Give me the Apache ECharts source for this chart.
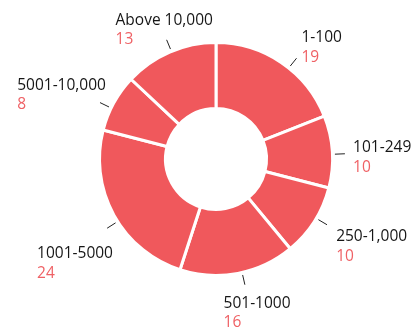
<!DOCTYPE html>
<html>
<head>
<meta charset="utf-8">
<script src="https://cdn.jsdelivr.net/npm/echarts@6/dist/echarts.min.js"></script>
<style>
  html, body { margin: 0; padding: 0; background: #ffffff; }
  #chart { width: 412px; height: 328px; }
</style>
</head>
<body>
<div id="chart"></div>
<script>
// Size bands and how many fall into each
const categories = ['1-100', '101-249', '250-1,000', '501-1000', '1001-5000', '5001-10,000', 'Above 10,000'];
const counts = [19, 10, 10, 16, 24, 8, 13];

const SLICE_COLOR = '#F0585C';
const VALUE_COLOR = '#EF6165';
const NAME_COLOR = '#161616';
const FONT = '"Open Sans", "Noto Sans", sans-serif';

const CENTER = [216, 159];
const OUTER = 116.5;
const INNER = 50.5;

const total = counts.reduce((a, b) => a + b, 0);

// Mid-angle direction of a slice (clockwise from 12 o'clock), used as a fallback
function sliceDirection(i) {
  let before = 0;
  for (let k = 0; k < i; k++) before += counts[k];
  const ang = (before + counts[i] / 2) / total * Math.PI * 2;
  return [Math.sin(ang), -Math.cos(ang)];
}

function unit(v) {
  const l = Math.hypot(v[0], v[1]) || 1;
  return [v[0] / l, v[1] / l];
}

const chart = echarts.init(document.getElementById('chart'), null, { renderer: 'canvas' });

chart.setOption({
  animation: false,
  series: [{
    type: 'pie',
    center: CENTER,
    radius: [INNER, OUTER],
    startAngle: 90,
    clockwise: true,
    avoidLabelOverlap: false,
    emphasis: { disabled: true },
    itemStyle: { color: SLICE_COLOR, borderColor: '#ffffff', borderWidth: 3 },
    label: {
      show: true,
      position: 'outside',
      align: 'left',
      formatter: '{n|{b}}\n{v|{c}}',
      rich: {
        n: { fontFamily: FONT, fontSize: 15.5, fontWeight: 500, lineHeight: 19.5, color: NAME_COLOR, align: 'left' },
        v: { fontFamily: FONT, fontSize: 15.5, fontWeight: 500, lineHeight: 19.5, color: VALUE_COLOR, align: 'left' }
      }
    },
    labelLine: {
      show: true,
      length: 10,
      length2: 0,
      smooth: false,
      lineStyle: { color: '#222222', width: 1 }
    },
    // Text block sits beyond the ring; a short detached tick points towards it
    labelLayout: function (p) {
      let dir, c0;
      const pts = p.labelLinePoints;
      if (pts && pts.length >= 2) {
        dir = unit([pts[1][0] - pts[0][0], pts[1][1] - pts[0][1]]);
        c0 = [pts[0][0] - dir[0] * OUTER, pts[0][1] - dir[1] * OUTER];
      } else {
        dir = sliceDirection(p.dataIndex);
        c0 = CENTER;
      }
      const s = dir[0], c = -dir[1];
      const b = [c0[0] + dir[0] * (OUTER + 12.5), c0[1] + dir[1] * (OUTER + 12.5)];
      const w = p.labelRect.width, h = p.labelRect.height;

      let left;
      let cy = b[1] + 6 - 20 * c;
      if (s > 0.5) {
        left = b[0] + 8 + 6 * Math.abs(c);
        cy += 5 * Math.max(c, 0);
      } else if (s < -0.5) {
        left = b[0] + 6.5 - 7.3 * c - w;
      } else {
        left = b[0] + 11.3 + 29.8 * s - w / 2;
      }
      if (s < -0.5 && c < -0.3) cy += 25;
      const top = cy - h / 2;

      // tick direction: halfway between the slice middle and the text block
      const toText = unit([left + w / 2 - c0[0], cy - c0[1]]);
      const u = unit([dir[0] + toText[0], dir[1] + toText[1]]);
      const a = [c0[0] + u[0] * 119, c0[1] + u[1] * 119];
      const e = [c0[0] + u[0] * 129, c0[1] + u[1] * 129];

      return { x: left, y: top, align: 'left', verticalAlign: 'top', labelLinePoints: [a, e] };
    },
    data: categories.map((name, i) => ({ name: name, value: counts[i] }))
  }]
});
</script>
</body>
</html>
